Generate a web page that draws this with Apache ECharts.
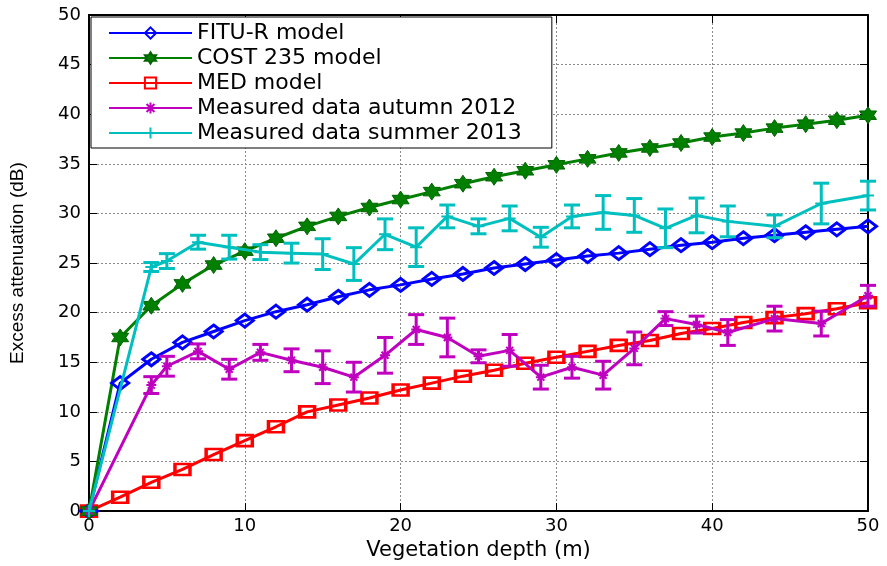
<!DOCTYPE html>
<html>
<head>
<meta charset="utf-8">
<script src="https://cdn.jsdelivr.net/npm/echarts@6/dist/echarts.min.js"></script>
<style>
  html, body { margin: 0; padding: 0; background: #fff; }
  #chart { width: 887px; height: 566px; }
</style>
</head>
<body>
<div id="chart"></div>
<script>
// model curves, every 2 m
var modelDepth = [0, 2, 4, 6, 8, 10, 12, 14, 16, 18, 20, 22, 24, 26, 28, 30, 32, 34, 36, 38, 40, 42, 44, 46, 48, 50];
var fituR = [0, 12.9, 15.3, 17.0, 18.1, 19.2, 20.1, 20.8, 21.6, 22.3, 22.8, 23.4, 23.9, 24.5, 24.9, 25.3, 25.7, 26.0, 26.4, 26.8, 27.1, 27.5, 27.8, 28.1, 28.4, 28.7];
var cost235 = [0, 17.5, 20.7, 22.9, 24.8, 26.2, 27.5, 28.7, 29.7, 30.6, 31.4, 32.2, 33.0, 33.7, 34.3, 34.9, 35.5, 36.1, 36.6, 37.1, 37.7, 38.1, 38.6, 39.0, 39.4, 39.9];
var med = [0, 1.4, 2.9, 4.2, 5.7, 7.1, 8.5, 10.0, 10.7, 11.4, 12.2, 12.9, 13.6, 14.2, 14.9, 15.5, 16.1, 16.7, 17.2, 17.9, 18.4, 19.0, 19.5, 19.9, 20.4, 21.0];

// measurements
var measDepth = [0, 4, 5, 7, 9, 11, 13, 15, 17, 19, 21, 23, 25, 27, 29, 31, 33, 35, 37, 39, 41, 44, 47, 50];
var autumn2012 = [0, 12.7, 14.6, 16.1, 14.3, 16.0, 15.2, 14.5, 13.5, 15.7, 18.3, 17.5, 15.6, 16.2, 13.5, 14.5, 13.7, 16.4, 19.4, 18.8, 18.0, 19.4, 18.9, 21.7];
var autumnErr = [0, 0.85, 1.0, 0.75, 1.0, 0.8, 1.15, 1.65, 1.5, 1.8, 1.5, 1.95, 0.65, 1.6, 1.2, 1.1, 1.4, 1.65, 0.7, 0.85, 1.3, 1.25, 1.25, 1.05];
var summer2013 = [0, 24.6, 25.2, 27.1, 26.6, 26.1, 26.0, 25.9, 24.9, 27.9, 26.6, 29.7, 28.7, 29.5, 27.6, 29.7, 30.1, 29.8, 28.5, 29.8, 29.2, 28.7, 31.0, 31.8];
var summerErr = [0, 0.45, 0.75, 0.7, 1.2, 0.75, 1.0, 1.55, 1.65, 1.55, 1.95, 1.15, 0.75, 1.25, 1.0, 1.15, 1.7, 1.7, 1.95, 1.75, 1.55, 1.15, 2.05, 1.45];

var seriesNames = ["FITU-R model", "COST 235 model", "MED model", "Measured data autumn 2012", "Measured data summer 2013"];

var hexagram = "path://M50 0L64.43 25L93.3 25L78.9 50L93.3 75L64.43 75L50 100L35.57 75L6.7 75L21.1 50L6.7 25L35.57 25Z";
var plusPath = "path://M5 0L5 10M0 5L10 5";
var starPath = "path://M5 0L5 10M0 5L10 5M1.5 1.5L8.5 8.5M1.5 8.5L8.5 1.5";

function pairs(xs, ys) {
  return xs.map(function (x, i) { return [x, ys[i]]; });
}
function errData(xs, ys, es) {
  var out = [];
  xs.forEach(function (x, i) {
    if (es[i] > 0) out.push([x, ys[i] - es[i], ys[i] + es[i]]);
  });
  return out;
}
function errorBars(color) {
  return function (params, api) {
    var x = api.value(0);
    var lo = api.coord([x, api.value(1)]);
    var hi = api.coord([x, api.value(2)]);
    var w = 8;
    var st = { stroke: color, lineWidth: 3 };
    return {
      type: "group",
      children: [
        { type: "line", shape: { x1: hi[0], y1: hi[1], x2: lo[0], y2: lo[1] }, style: st },
        { type: "line", shape: { x1: hi[0] - w, y1: hi[1], x2: hi[0] + w, y2: hi[1] }, style: st },
        { type: "line", shape: { x1: lo[0] - w, y1: lo[1], x2: lo[0] + w, y2: lo[1] }, style: st }
      ]
    };
  };
}

var chart = echarts.init(document.getElementById("chart"));

var axisTxt = { color: "#000", fontFamily: "DejaVu Sans", fontSize: 18 };

chart.setOption({
  animation: false,
  backgroundColor: "#fff",
  grid: { left: 88, right: 19, top: 15, bottom: 52 },
  legend: {
    data: seriesNames,
    orient: "vertical",
    left: 91,
    top: 17,
    itemWidth: 83,
    itemHeight: 14,
    itemGap: 3,
    padding: [5, 30, 4, 17],
    borderColor: "#000",
    borderWidth: 1,
    backgroundColor: "#fff",
    textStyle: { color: "#000", fontFamily: "DejaVu Sans", fontSize: 22, lineHeight: 22 }
  },
  xAxis: [
    {
      type: "value", min: 0, max: 50, interval: 10,
      name: "Vegetation depth (m)", nameLocation: "middle", nameGap: 28,
      nameTextStyle: { color: "#000", fontFamily: "DejaVu Sans", fontSize: 21 },
      axisLine: { lineStyle: { color: "#000", width: 2 } },
      axisTick: { inside: true, length: 8, lineStyle: { color: "#000" } },
      axisLabel: Object.assign({ margin: 6 }, axisTxt),
      splitLine: { lineStyle: { color: "#8a8a8a", type: [2, 2], width: 1 } }
    },
    {
      type: "value", min: 0, max: 50, interval: 10, position: "top",
      axisLine: { onZero: false, lineStyle: { color: "#000", width: 2 } },
      axisTick: { inside: true, length: 8, lineStyle: { color: "#000" } },
      axisLabel: { show: false },
      splitLine: { show: false }
    }
  ],
  yAxis: [
    {
      type: "value", min: 0, max: 50, interval: 5,
      name: "Excess attenuation (dB)", nameLocation: "middle", nameGap: 62,
      nameTextStyle: { color: "#000", fontFamily: "Liberation Sans", fontSize: 19, padding: [0, 0, 0, 0] },
      axisLine: { lineStyle: { color: "#000", width: 2 } },
      axisTick: { inside: true, length: 8, lineStyle: { color: "#000" } },
      axisLabel: Object.assign({ margin: 8 }, axisTxt),
      splitLine: { lineStyle: { color: "#8a8a8a", type: [2, 2], width: 1 } }
    },
    {
      type: "value", min: 0, max: 50, interval: 5, position: "right",
      axisLine: { onZero: false, lineStyle: { color: "#000", width: 2 } },
      axisTick: { inside: true, length: 8, lineStyle: { color: "#000" } },
      axisLabel: { show: false },
      splitLine: { show: false }
    }
  ],
  series: [
    {
      name: seriesNames[2], type: "line", data: pairs(modelDepth, med),
      clip: false, symbol: "rect", symbolSize: [15, 11],
      lineStyle: { color: "#ff0000", width: 3 },
      itemStyle: { color: "rgba(255,255,255,0)", borderColor: "#ff0000", borderWidth: 3 },
      z: 3
    },
    {
      name: seriesNames[0], type: "line", data: pairs(modelDepth, fituR),
      clip: false, symbol: "diamond", symbolSize: [17, 13],
      lineStyle: { color: "#0000ff", width: 3 },
      itemStyle: { color: "rgba(255,255,255,0)", borderColor: "#0000ff", borderWidth: 3 },
      z: 3
    },
    {
      name: seriesNames[1], type: "line", data: pairs(modelDepth, cost235),
      clip: false, symbol: hexagram, symbolSize: [17, 17],
      lineStyle: { color: "#007f00", width: 3 },
      itemStyle: { color: "#007f00", borderColor: "#006400", borderWidth: 1 },
      z: 3
    },
    {
      name: seriesNames[3], type: "line", data: pairs(measDepth, autumn2012),
      clip: false, symbol: starPath, symbolSize: 10,
      lineStyle: { color: "#bf00bf", width: 3 },
      itemStyle: { color: "#bf00bf", borderColor: "#bf00bf", borderWidth: 2 },
      z: 4
    },
    {
      name: "autumn error", type: "custom", data: errData(measDepth, autumn2012, autumnErr),
      renderItem: errorBars("#bf00bf"), clip: false, z: 4,
      encode: { x: 0, y: [1, 2] }
    },
    {
      name: seriesNames[4], type: "line", data: pairs(measDepth, summer2013),
      clip: false, symbol: plusPath, symbolSize: 12,
      lineStyle: { color: "#00bfbf", width: 3 },
      itemStyle: { color: "#00bfbf", borderColor: "#00bfbf", borderWidth: 2 },
      z: 5
    },
    {
      name: "summer error", type: "custom", data: errData(measDepth, summer2013, summerErr),
      renderItem: errorBars("#00bfbf"), clip: false, z: 5,
      encode: { x: 0, y: [1, 2] }
    }
  ]
});
</script>
</body>
</html>
